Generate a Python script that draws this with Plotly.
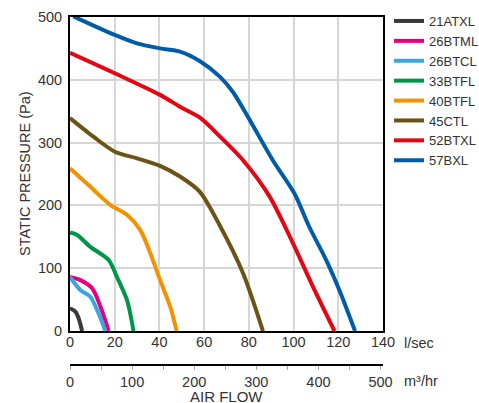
import plotly.graph_objects as go

# Air flow in l/sec, static pressure in Pa
models = ["21ATXL", "26BTML", "26BTCL", "33BTFL", "40BTFL", "45CTL", "52BTXL", "57BXL"]
colors = ["#3a3a3a", "#e5007d", "#3aa6df", "#00964a", "#f39200", "#6b5415", "#e30613", "#005ca9"]

flow_21ATXL = [0, 2.4, 3.9, 5.4]
pres_21ATXL = [36, 31, 20, 0]

flow_26BTML = [0, 4.7, 9.9, 13.6, 17.3]
pres_26BTML = [86, 81, 68, 39, 0]

flow_26BTCL = [0, 4.7, 9.0, 12.8, 15.8]
pres_26BTCL = [86, 65, 55, 28, 0]

flow_33BTFL = [0, 3.2, 9.1, 17.3, 21.0, 25.5, 28.4]
pres_33BTFL = [157, 153, 134, 113, 86, 49, 0]

flow_40BTFL = [0, 9.0, 18.0, 25.5, 31.4, 35.9, 40.3, 44.8, 47.7]
pres_40BTFL = [259, 230, 201, 185, 161, 124, 81, 39, 0]

flow_45CTL = [0, 10.6, 20.3, 30.0, 40.3, 49.2, 58.0, 67.0, 77.4, 86.3]
pres_45CTL = [339, 309, 285, 275, 263, 246, 222, 168, 92, 0]

flow_52BTXL = [0, 20.3, 40.3, 49.2, 58.0, 67.0, 77.4, 89.3, 99.7, 108.6, 118.3]
pres_52BTXL = [443, 410, 376, 357, 340, 310, 272, 214, 140, 71, 0]

flow_57BXL = [1.5, 20.3, 30.0, 40.3, 49.2, 58.0, 67.0, 72.8, 80.4, 90.7, 100.4, 107.0, 114.6, 120.5, 127.5]
pres_57BXL = [501, 471, 458, 450, 445, 430, 405, 381, 336, 272, 219, 166, 113, 65, 0]

flows = [flow_21ATXL, flow_26BTML, flow_26BTCL, flow_33BTFL, flow_40BTFL, flow_45CTL, flow_52BTXL, flow_57BXL]
pressures = [pres_21ATXL, pres_26BTML, pres_26BTCL, pres_33BTFL, pres_40BTFL, pres_45CTL, pres_52BTXL, pres_57BXL]

x_ticks_ls = [0, 20, 40, 60, 80, 100, 120, 140]
y_ticks = [0, 100, 200, 300, 400, 500]
x_ticks_m3h = [0, 100, 200, 300, 400, 500]

FONT = "Liberation Sans, Arial, sans-serif"
TXT = "#333333"

fig = go.Figure()
for name, col, fx, py in zip(models, colors, flows, pressures):
    fig.add_trace(go.Scatter(x=fx, y=py, name=name, mode="lines",
                             line=dict(color=col, width=4, shape="spline", smoothing=0.8),
                             hoverinfo="skip"))

# invisible trace to carry the m3/hr axis
fig.add_trace(go.Scatter(x=[0, 504], y=[0, 0], xaxis="x2", yaxis="y", mode="lines",
                         line=dict(width=0), showlegend=False, hoverinfo="skip", opacity=0))

plot_top, plot_bottom, axis2_px = 17, 331, 365
H = axis2_px - plot_top
ydom0 = (axis2_px - plot_bottom) / H

fig.update_layout(
    width=479, height=403,
    margin=dict(l=70, r=96, t=17, b=403 - axis2_px, autoexpand=False),
    paper_bgcolor="white", plot_bgcolor="white",
    font=dict(family=FONT, size=14, color=TXT),
    xaxis=dict(range=[0, 140], tickvals=x_ticks_ls, showgrid=True, gridcolor="#d6d6d6", gridwidth=2,
               showline=True, linecolor="black", linewidth=2, mirror=True, ticks="", automargin=False,
               zeroline=False, anchor="y", domain=[0, 1], tickfont=dict(size=14.5, color=TXT),
               ticklabelstandoff=-3),
    xaxis2=dict(range=[0, 504], tickvals=x_ticks_m3h, overlaying="x", anchor="free", position=0,
                side="bottom", showgrid=False, zeroline=False, showline=True, linecolor="black",
                linewidth=2, ticks="outside", ticklen=4, tickcolor="#aaaaaa", tickwidth=1, automargin=False,
                minor=dict(dtick=50, tick0=0, ticks="outside", ticklen=4, tickcolor="#aaaaaa", tickwidth=1),
                tickfont=dict(size=14.5, color=TXT)),
    yaxis=dict(range=[0, 500], tickvals=y_ticks, domain=[ydom0, 1], showgrid=True, gridcolor="#d6d6d6",
               gridwidth=2, showline=True, linecolor="black", linewidth=2, mirror=True, ticks="",
               automargin=False, zeroline=False, tickfont=dict(size=14.5, color=TXT),
               ticklabelstandoff=3),
    legend=dict(x=(389 - 70) / 313, xanchor="left", y=1 + 11 / H, yanchor="top",
                font=dict(size=13, color=TXT),
                bgcolor="rgba(0,0,0,0)", borderwidth=0, tracegroupgap=0, itemwidth=30),
    showlegend=True,
)

fig.add_annotation(text="l/sec", xref="paper", yref="paper", x=(402 - 70) / 313, y=(axis2_px - 343) / H,
                   xanchor="left", yanchor="middle", showarrow=False, font=dict(size=14.5, color=TXT))
fig.add_annotation(text="m³/hr", xref="paper", yref="paper", x=(402 - 70) / 313, y=(axis2_px - 381) / H,
                   xanchor="left", yanchor="middle", showarrow=False, font=dict(size=14.5, color=TXT))
fig.add_annotation(text="AIR FLOW", xref="paper", yref="paper", x=0.5, y=(axis2_px - 396) / H,
                   xanchor="center", yanchor="middle", showarrow=False, font=dict(size=15, color=TXT))
fig.add_annotation(text="STATIC PRESSURE (Pa)", xref="paper", yref="paper", x=(25 - 70) / 313,
                   y=(ydom0 + 1) / 2, xanchor="center", yanchor="middle", textangle=-90,
                   showarrow=False, font=dict(size=14.5, color=TXT))

fig.write_html("out.html", config={"displayModeBar": False},
               post_script="document.body.style.margin='0px';document.body.style.overflow='hidden';")
